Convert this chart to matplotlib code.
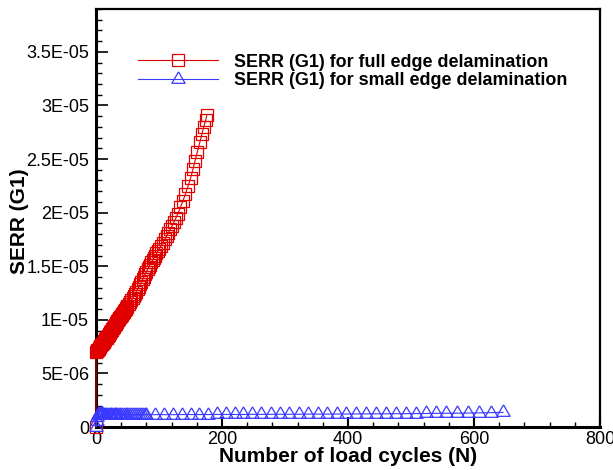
import numpy as np
import matplotlib
matplotlib.use("Agg")
import matplotlib.pyplot as plt
from matplotlib.ticker import MultipleLocator

plt.rcParams["font.family"] = ["Liberation Sans", "DejaVu Sans"]

# SERR (G1) for full edge delamination (red squares)
full_cycles = [0, 0, 1, 2, 3, 4, 5, 6, 7, 8, 9, 10, 11, 12, 13, 14, 15, 16, 17, 18, 19, 20,
               21, 22, 23, 24, 25, 26, 27, 28, 29, 30, 31, 32, 33, 34, 35, 36, 37, 38, 39, 40,
               41, 42, 43, 44, 45, 46, 47, 48, 49, 50, 52, 54, 56, 58, 60, 62, 64, 66, 68, 70,
               72, 74, 76, 78, 80, 82, 84, 86, 88, 90, 92, 94, 96, 98, 100, 103, 106, 109, 112,
               115, 118, 121, 124, 127, 130, 134, 138, 142, 146, 150, 154, 157, 161, 165, 168,
               171, 174, 176]
full_serr_e6 = [0.0, 7.00, 7.08, 7.15, 7.23, 7.30, 7.38, 7.46, 7.54, 7.62, 7.70, 7.78, 7.86,
                7.94, 8.02, 8.10, 8.18, 8.26, 8.35, 8.43, 8.52, 8.60, 8.69, 8.78, 8.87, 8.96,
                9.05, 9.14, 9.23, 9.32, 9.41, 9.50, 9.59, 9.68, 9.77, 9.86, 9.95, 10.04, 10.13,
                10.22, 10.31, 10.40, 10.49, 10.58, 10.67, 10.76, 10.85, 10.94, 11.03, 11.12,
                11.21, 11.30, 11.48, 11.66, 11.84, 12.02, 12.20, 12.42, 12.64, 12.86, 13.08,
                13.30, 13.54, 13.78, 14.02, 14.26, 14.50, 14.72, 14.94, 15.16, 15.38, 15.60,
                15.80, 16.00, 16.20, 16.40, 16.60, 16.90, 17.20, 17.50, 17.82, 18.14, 18.46,
                18.80, 19.16, 19.52, 19.90, 20.50, 21.10, 21.75, 22.45, 23.20, 24.05, 24.80,
                25.70, 26.60, 27.30, 28.00, 28.60, 29.10]

# SERR (G1) for small edge delamination (blue triangles)
small_cycles = [0, 1, 2, 3, 4, 5, 6, 7, 8, 9, 10, 12, 14, 16, 18, 20, 22, 24, 26, 28, 30, 32,
                34, 36, 38, 41, 44, 47, 50, 53, 56, 59, 62, 65, 68, 71, 74, 77, 80, 94, 108,
                122, 136, 150, 164, 178, 192, 206, 220, 234, 248, 262, 277, 292, 307, 322, 337,
                352, 367, 382, 397, 412, 428, 444, 460, 476, 492, 508, 524, 540, 556, 573, 590,
                608, 627, 646]
small_serr_e6 = [0.0, 0.55, 0.95, 1.15, 1.25, 1.22, 1.20, 1.18, 1.18, 1.17, 1.17, 1.16, 1.16,
                 1.16, 1.15, 1.15, 1.15, 1.15, 1.15, 1.15, 1.15, 1.15, 1.15, 1.15, 1.15, 1.15,
                 1.15, 1.15, 1.15, 1.15, 1.15, 1.15, 1.15, 1.15, 1.15, 1.15, 1.15, 1.15, 1.15,
                 1.15, 1.15, 1.15, 1.16, 1.16, 1.16, 1.16, 1.17, 1.17, 1.17, 1.17, 1.18, 1.18,
                 1.18, 1.19, 1.19, 1.19, 1.20, 1.20, 1.20, 1.21, 1.21, 1.22, 1.22, 1.23, 1.23,
                 1.24, 1.24, 1.25, 1.26, 1.27, 1.28, 1.29, 1.30, 1.32, 1.34, 1.36]

ytick_values = [0, 5e-6, 1e-5, 1.5e-5, 2e-5, 2.5e-5, 3e-5, 3.5e-5]
ytick_labels = ["0", "5E-06", "1E-05", "1.5E-05", "2E-05", "2.5E-05", "3E-05", "3.5E-05"]
xtick_values = [0, 200, 400, 600, 800]

label_full = "SERR (G1) for full edge delamination"
label_small = "SERR (G1) for small edge delamination"

# triangle centred on its centroid (like the original plotting program)
tri = [(0, 1), (-0.866, -0.5), (0.866, -0.5), (0, 1)]

fig = plt.figure(figsize=(6.13, 4.70), dpi=100)
ax = fig.add_axes([96 / 613, 1 - 427 / 470, 504 / 613, 418 / 470])

ax.plot(full_cycles, np.array(full_serr_e6) * 1e-6, color="#dd0000", lw=0.8,
        marker="s", ms=8, mfc="none", mec="#e00000", mew=0.9, clip_on=False,
        label=label_full, zorder=3)
ax.plot(small_cycles, np.array(small_serr_e6) * 1e-6, color="#3a3aff", lw=0.8,
        marker=tri, ms=11, mfc="none", mec="#3a3aff", mew=0.9, clip_on=False,
        label=label_small, zorder=3)

ax.set_xlim(0, 800)
ax.set_ylim(0, 3.9e-5)
ax.set_xticks(xtick_values)
ax.set_yticks(ytick_values)
ax.set_yticklabels(ytick_labels)
ax.xaxis.set_minor_locator(MultipleLocator(40))
ax.yaxis.set_minor_locator(MultipleLocator(1e-6))

ax.tick_params(which="both", direction="in", top=False, right=False, labelsize=13,
               colors="black")
ax.tick_params(axis="y", which="major", length=8.5, width=1.2, pad=5)
ax.tick_params(axis="y", which="minor", length=4.2, width=1.0)
ax.tick_params(axis="x", which="major", length=7, width=1.5, pad=3)
ax.tick_params(axis="x", which="minor", length=3.6, width=1.0)

for side in ["left", "bottom"]:
    ax.spines[side].set_linewidth(2.2)
for side in ["top", "right"]:
    ax.spines[side].set_linewidth(1.6)

fig.text(348 / 613, 1 - 456 / 470, "Number of load cycles (N)", ha="center", va="center",
         fontsize=15, fontweight="bold")
fig.text(20 / 613, 1 - 221 / 470, "SERR (G1)", ha="center", va="center", rotation=90,
         fontsize=15, fontweight="bold")

ax.legend(loc="upper left", bbox_to_anchor=(0.083, 0.893), frameon=False,
          handlelength=4.45, handletextpad=0.89, numpoints=1, borderpad=0,
          borderaxespad=0, labelspacing=0.07,
          prop={"weight": "bold", "size": 12.9})

fig.savefig("out.png", dpi=100)
